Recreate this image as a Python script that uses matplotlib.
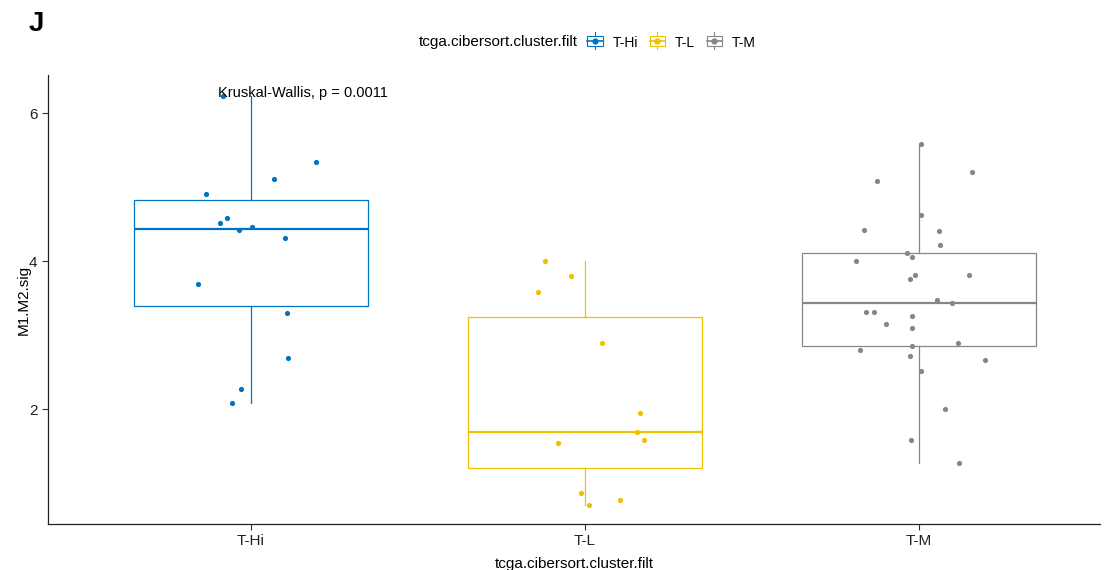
import numpy as np
import matplotlib.pyplot as plt
from matplotlib.legend_handler import HandlerBase
from matplotlib.patches import Rectangle
from matplotlib.lines import Line2D

plt.rcParams['font.family'] = ['Liberation Sans', 'DejaVu Sans']

groups = ["T-Hi", "T-L", "T-M"]
colors = ["#0073C2", "#EFC000", "#868686"]

# values
thi_vals = [6.23, 5.34, 5.11, 4.91, 4.59, 4.51, 4.42, 4.46, 4.31, 3.69, 3.30, 2.69, 2.27, 2.09]
thi_jit = [-0.084, 0.195, 0.069, -0.135, -0.072, -0.093, -0.036, 0.003, 0.102, -0.159, 0.108, 0.111, -0.030, -0.057]

tl_vals = [4.00, 3.80, 3.59, 2.89, 1.95, 1.69, 1.58, 1.55, 0.87, 0.70, 0.77]
tl_jit = [-0.120, -0.042, -0.141, 0.051, 0.165, 0.156, 0.177, -0.081, -0.012, 0.012, 0.105]

tm_vals = [5.59, 5.21, 5.09, 4.63, 4.42, 4.41, 4.22, 4.11, 4.06, 4.00, 3.82, 3.81, 3.76, 3.47, 3.44,
           3.31, 3.32, 3.15, 3.26, 3.10, 2.90, 2.85, 2.80, 2.72, 2.67, 2.52, 2.01, 1.59, 1.27]
tm_jit = [0.006, 0.158, -0.126, 0.006, -0.164, 0.058, 0.061, -0.035, -0.020, -0.188, -0.012, 0.149, -0.027,
          0.052, 0.099, -0.158, -0.135, -0.100, -0.020, -0.020, 0.116, -0.020, -0.176, -0.027, 0.198,
          0.006, 0.078, -0.024, 0.119]

all_vals = [thi_vals, tl_vals, tm_vals]
all_jit = [thi_jit, tl_jit, tm_jit]

fig = plt.figure(figsize=(11.1, 5.7), dpi=100)
ax = fig.add_axes([0.0432, 0.0807, 0.948, 0.787])

for i, (vals, jit, c) in enumerate(zip(all_vals, all_jit, colors)):
    ax.boxplot(vals, positions=[i], widths=0.7, whis=1.5, showfliers=False,
               patch_artist=True, manage_ticks=False,
               boxprops=dict(facecolor="white", edgecolor=c, linewidth=0.9),
               whiskerprops=dict(color=c, linewidth=0.9),
               capprops=dict(linewidth=0),
               medianprops=dict(color=c, linewidth=1.6))
    ax.scatter(i + np.array(jit), vals, s=14, color=c, zorder=3, linewidths=0)

ax.text(-0.1, 6.27, "Kruskal-Wallis, p = 0.0011", ha="left", va="center", fontsize=10.5)

ax.set_xlim(-0.608, 2.542)
ax.set_ylim(0.45, 6.51)
ax.set_xticks(range(3))
ax.set_xticklabels(groups)
ax.set_yticks([2, 4, 6])
ax.tick_params(labelsize=11, length=4, width=0.8, colors="#333333", labelcolor="#222222")
ax.set_xlabel("tcga.cibersort.cluster.filt", fontsize=11, labelpad=6)
ax.set_ylabel("M1.M2.sig", fontsize=11, labelpad=-1)
for s in ["top", "right"]:
    ax.spines[s].set_visible(False)
for s in ["left", "bottom"]:
    ax.spines[s].set_linewidth(0.9)
    ax.spines[s].set_color("#222222")


class BoxKey(HandlerBase):
    def create_artists(self, legend, orig_handle, xd, yd, w, h, fontsize, trans):
        c = orig_handle.get_color()
        x0, y0 = -xd, -yd
        cx, cy = x0 + w / 2, (h - yd) / 2
        bw, bh = w * 0.95, (h + yd) * 0.62
        rect = Rectangle((cx - bw / 2, cy - bh / 2), bw, bh, facecolor="white",
                         edgecolor=c, linewidth=0.8, transform=trans)
        vline = Line2D([cx, cx], [y0, h], color=c, linewidth=0.8, transform=trans)
        med = Line2D([cx - bw / 2, cx + bw / 2], [cy, cy], color=c, linewidth=1.2, transform=trans)
        dot = Line2D([cx], [cy], marker="o", markersize=3.5, color=c, linestyle="none", transform=trans)
        return [vline, rect, med, dot]


handles = [Line2D([], [], color=c) for c in colors]
fig.legend(handles, groups, handler_map={Line2D: BoxKey()}, loc="center left",
           bbox_to_anchor=(0.5288, 0.926), ncol=3, frameon=False, fontsize=10,
           handlelength=1.15, handleheight=1.2, handletextpad=0.7, columnspacing=0.8,
           borderaxespad=0, borderpad=0)
fig.text(0.5207, 0.926, "tcga.cibersort.cluster.filt", fontsize=11, ha="right", va="center")

fig.text(0.026, 0.958, "J", fontsize=20, fontweight="bold", va="center", ha="left")

fig.savefig("out.png", dpi=100)
